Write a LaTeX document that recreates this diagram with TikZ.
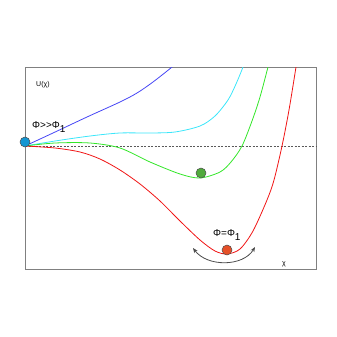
\documentclass[tikz,border=0pt]{standalone}
\usepackage{fontspec}
\setmainfont{Liberation Sans}
\usetikzlibrary{arrows.meta}

\definecolor{potblue}{RGB}{70,70,245}
\definecolor{potcyan}{RGB}{60,230,250}
\definecolor{potgreen}{RGB}{50,230,40}
\definecolor{potred}{RGB}{240,20,20}
\definecolor{ballblue}{RGB}{20,150,210}
\definecolor{ballgreen}{RGB}{80,170,60}
\definecolor{ballred}{RGB}{230,80,40}

\begin{document}
\begin{tikzpicture}[x=1pt,y=-1pt,
    curve/.style={line width=0.8pt},
    ball/.style={circle,draw=black!70,line width=0.5pt,inner sep=0pt,minimum size=10pt},
    lbl/.style={inner sep=0pt}]

      \useasboundingbox (0,0) rectangle (337,337);

      % frame and zero line
      \draw[black!50,line width=0.9pt] (25,67) rectangle (316,269);
      \draw[black!65,line width=0.45pt,dash pattern=on 2pt off 1.5pt] (25,146) -- (316,146);

      \begin{scope}
        \clip (25,67) rectangle (316,269);
        \draw[curve,potblue] plot[smooth] coordinates {(25,146) (53,133) (87,117)
          (120,102) (137,93) (153,82) (172,67) (178,61)};
        \draw[curve,potcyan] plot[smooth] coordinates {(25,146) (55,141) (90,136)
          (120,133) (150,133) (175,132) (200,126) (215,116) (228,100) (236,84)
          (243,67) (245,60)};
        \draw[curve,potgreen] plot[smooth] coordinates {(25,146) (55,143) (90,143)
          (120,148) (150,162) (180,174) (200,178) (220,172) (231,162) (242,146)
          (252,121) (260,97) (268,67) (270,59)};
        \draw[curve,potred] plot[smooth] coordinates {(25,146) (55,148) (80,152)
          (100,159) (120,170) (140,184) (160,201) (180,221) (200,240) (215,251)
          (227,254) (240,249) (253,231) (267,200) (274,180) (282,146) (289,110)
          (296,67) (297,60)};
      \end{scope}

      \begin{scope}[every node/.style={ball}]
        \node[fill=ballblue]  (b1) at (25,142) {};
        \node[fill=ballgreen] (b2) at (201,173) {};
        \node[fill=ballred]   (b3) at (227,250) {};
      \end{scope}

      \coordinate (l) at (193,248);
      \coordinate (r) at (255,247);
      \draw[black!70,line width=0.8pt,{Stealth[length=5pt,width=4pt]}-{Stealth[length=5pt,width=4pt]}]
        (l) .. controls (207,267) and (243,267) .. (r);

      \begin{scope}[every node/.style={lbl}]
        \node[anchor=base west,font=\fontsize{7}{8}\selectfont] (u) at (36,86) {U(χ)};
        \node[anchor=base west,font=\fontsize{10}{12}\selectfont] (big) at (32,128)
          {Φ>{}>Φ\raisebox{-0.8ex}{1}};
        \node[anchor=base west,font=\fontsize{10}{12}\selectfont] (eq) at (213,236)
          {Φ=Φ\raisebox{-0.8ex}{1}};
        \node[font=\fontsize{7}{8}\selectfont] (x) at (284,264) {χ};
      \end{scope}

    \end{tikzpicture}
\end{document}
